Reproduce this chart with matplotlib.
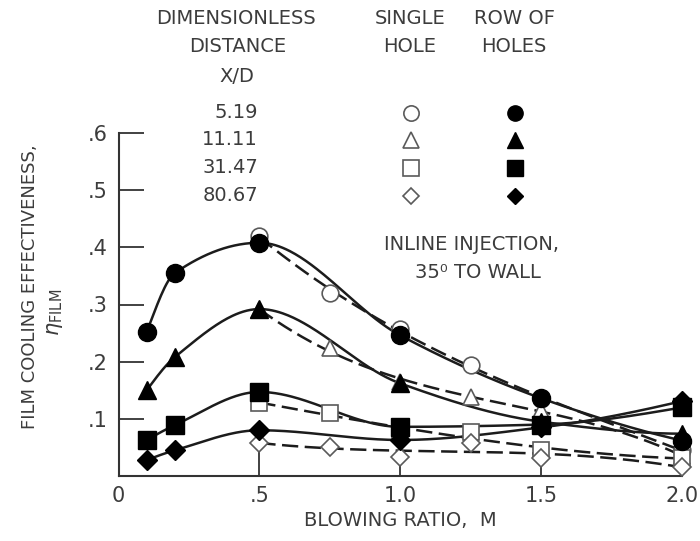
import numpy as np
import matplotlib
matplotlib.use("Agg")
import matplotlib.pyplot as plt

# ---- data ----
xd_labels = ["5.19", "11.11", "31.47", "80.67"]
markers = ["o", "^", "s", "D"]

# row of holes (filled, solid lines)
m_row = [0.1, 0.2, 0.5, 1.0, 1.5, 2.0]
eta_row_519 = [0.252, 0.355, 0.408, 0.246, 0.136, 0.062]
eta_row_1111 = [0.150, 0.208, 0.292, 0.162, 0.095, 0.074]
eta_row_3147 = [0.063, 0.089, 0.147, 0.086, 0.090, 0.120]
eta_row_8067 = [0.028, 0.045, 0.080, 0.063, 0.085, 0.131]

# single hole (open, dashed lines)
m_single = [0.5, 0.75, 1.0, 1.25, 1.5, 2.0]
eta_single_519 = [0.420, 0.320, 0.258, 0.194, 0.135, 0.045]
eta_single_1111 = [0.290, 0.224, 0.165, 0.138, 0.115, 0.035]
eta_single_3147 = [0.128, 0.110, 0.075, 0.077, 0.045, 0.031]
eta_single_8067 = [0.058, 0.051, 0.033, 0.058, 0.031, 0.016]

x_ticks = [0, 0.5, 1.0, 1.5, 2.0]
x_ticklabels = ["0", ".5", "1.0", "1.5", "2.0"]
y_ticks = [0.1, 0.2, 0.3, 0.4, 0.5, 0.6]
y_ticklabels = [".1", ".2", ".3", ".4", ".5", ".6"]

rows = [eta_row_519, eta_row_1111, eta_row_3147, eta_row_8067]
singles = [eta_single_519, eta_single_1111, eta_single_3147, eta_single_8067]

INK = "#1c1c1c"
TXT = "#3c3c3c"
OPEN_EDGE = "#5a5a5a"


def pchip(x, y, xn):
    # monotone cubic through the points (faired curve)
    x = np.asarray(x, float)
    y = np.asarray(y, float)
    h = np.diff(x)
    d = np.diff(y) / h
    n = len(x)
    m = np.zeros(n)
    for k in range(1, n - 1):
        if d[k - 1] * d[k] > 0:
            w1 = 2 * h[k] + h[k - 1]
            w2 = h[k] + 2 * h[k - 1]
            m[k] = (w1 + w2) / (w1 / d[k - 1] + w2 / d[k])
    m[0] = ((2 * h[0] + h[1]) * d[0] - h[0] * d[1]) / (h[0] + h[1])
    if np.sign(m[0]) != np.sign(d[0]):
        m[0] = 0
    m[-1] = ((2 * h[-1] + h[-2]) * d[-1] - h[-1] * d[-2]) / (h[-1] + h[-2])
    if np.sign(m[-1]) != np.sign(d[-1]):
        m[-1] = 0
    idx = np.clip(np.searchsorted(x, xn) - 1, 0, n - 2)
    t = (xn - x[idx]) / h[idx]
    h00 = 2 * t**3 - 3 * t**2 + 1
    h10 = t**3 - 2 * t**2 + t
    h01 = -2 * t**3 + 3 * t**2
    h11 = t**3 - t**2
    return h00 * y[idx] + h10 * h[idx] * m[idx] + h01 * y[idx + 1] + h11 * h[idx] * m[idx + 1]


fig = plt.figure(figsize=(7.0, 5.41), dpi=100)
W, H = 700.0, 541.0


def ftext(px, py, s, **kw):
    fig.text(px / W, 1 - py / H, s, color=TXT, **kw)


ax = fig.add_axes([118.5 / W, (H - 476) / H, (682 - 118.5) / W, (476 - 133) / H])

# curves
for eta in rows:
    xs = np.linspace(m_row[0], m_row[-1], 300)
    ax.plot(xs, pchip(m_row, eta, xs), color=INK, lw=1.8, zorder=2, clip_on=False)
for eta in singles:
    xs = np.linspace(m_single[0], m_single[-1], 300)
    c = np.polyfit(m_single, eta, 3)
    ax.plot(xs, np.polyval(c, xs), color=INK, lw=1.8, dashes=(6.5, 2.6), zorder=2, clip_on=False)

# points
for eta, mk in zip(singles, markers):
    ms = 12 if mk != "D" else 9.5
    ax.plot(m_single, eta, ls="none", marker=mk, ms=ms, mfc="white", mec=OPEN_EDGE,
            mew=1.2, zorder=3, clip_on=False)
for eta, mk in zip(rows, markers):
    ms = 13 if mk != "D" else 10
    ax.plot(m_row, eta, ls="none", marker=mk, ms=ms, mfc="black", mec="black",
            zorder=4, clip_on=False)

ax.set_xlim(0, 2.0)
ax.set_ylim(0, 0.6)
ax.spines["top"].set_visible(False)
ax.spines["right"].set_visible(False)
for s in ["left", "bottom"]:
    ax.spines[s].set_color("#333333")
    ax.spines[s].set_linewidth(1.5)
ax.set_xticks(x_ticks)
ax.set_xticklabels(x_ticklabels)
ax.set_yticks(y_ticks)
ax.set_yticklabels(y_ticklabels)
ax.tick_params(direction="in", length=18, width=1.3, color="#333333",
               labelcolor=TXT, labelsize=15)
ax.tick_params(axis="x", pad=7)
ax.tick_params(axis="y", pad=8)
ax.patch.set_alpha(0)

# axis titles
ftext(400, 520, "BLOWING RATIO,  M", ha="center", va="center", fontsize=14)
ftext(30, 287, "FILM COOLING EFFECTIVENESS,", ha="center", va="center",
      rotation=90, fontsize=13)
ftext(55, 312, r"$\eta_{\mathrm{FILM}}$", ha="center", va="center",
      rotation=90, fontsize=15)

# key (header block)
ftext(236, 18, "DIMENSIONLESS", ha="center", va="center", fontsize=14)
ftext(238, 47, "DISTANCE", ha="center", va="center", fontsize=14)
ftext(237, 76, "X/D", ha="center", va="center", fontsize=14)
ftext(410, 18, "SINGLE", ha="center", va="center", fontsize=14)
ftext(410, 47, "HOLE", ha="center", va="center", fontsize=14)
ftext(514, 18, "ROW OF", ha="center", va="center", fontsize=14)
ftext(514, 47, "HOLES", ha="center", va="center", fontsize=14)

key = fig.add_axes([0, 0, 1, 1])
key.set_xlim(0, W)
key.set_ylim(H, 0)
key.axis("off")
key_y = [113, 140, 168, 196]
for lab, mk, yy in zip(xd_labels, markers, key_y):
    ftext(258, yy, lab, ha="right", va="center", fontsize=14)
    ms = 11 if mk != "D" else 8
    key.plot([411], [yy], ls="none", marker=mk, ms=ms, mfc="white", mec=OPEN_EDGE, mew=1.2)
    key.plot([515], [yy], ls="none", marker=mk, ms=ms, mfc="black", mec="black")

ftext(472, 245, "INLINE INJECTION,", ha="center", va="center", fontsize=14)
ftext(478, 272, "35\u2070 TO WALL", ha="center", va="center", fontsize=14)

fig.savefig("out.png", dpi=100)
